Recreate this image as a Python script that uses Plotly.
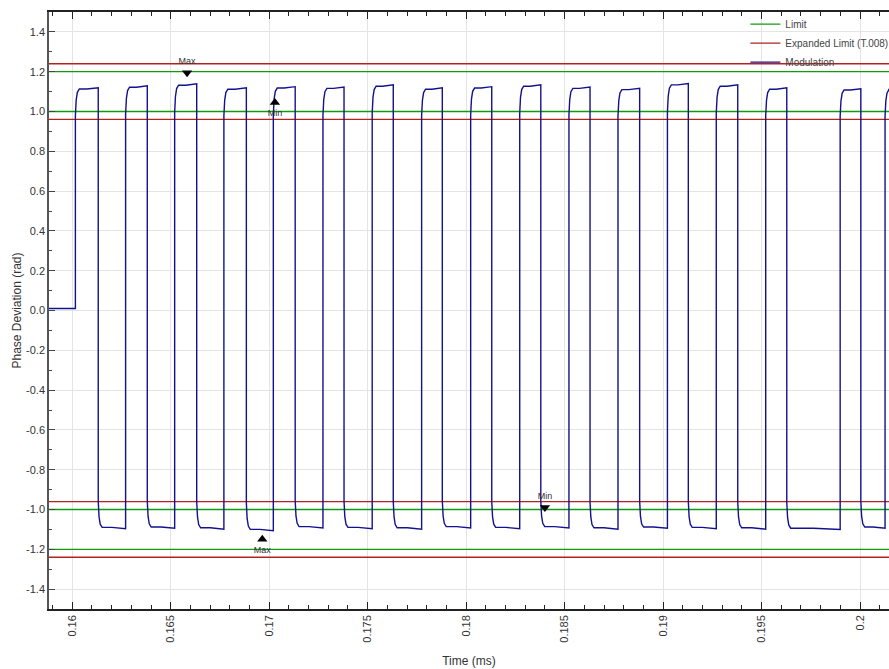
import plotly.graph_objects as go

# ---------------- data ----------------
baseline_level = 0.01
t_start = 0.1588
t_end = 0.2016

rise_times = [0.16016, 0.16271, 0.16520, 0.16770, 0.17021, 0.17273, 0.17523,
              0.17774, 0.18023, 0.18272, 0.18522, 0.18771, 0.19022, 0.19270,
              0.19521, 0.19899, 0.20127]
fall_times = [0.16132, 0.16381, 0.16632, 0.16884, 0.17132, 0.17380, 0.17630,
              0.17879, 0.18130, 0.18379, 0.18629, 0.18881, 0.19128, 0.19379,
              0.19628, 0.20004]
high_levels = [1.113, 1.122, 1.132, 1.112, 1.118, 1.116, 1.127, 1.112, 1.118,
               1.127, 1.116, 1.110, 1.134, 1.127, 1.112, 1.108, 1.110]
low_levels = [-1.090, -1.088, -1.092, -1.100, -1.086, -1.090, -1.092, -1.086,
              -1.090, -1.086, -1.092, -1.088, -1.090, -1.092, -1.094, -1.088]

limit_levels = [1.2, 1.0, -1.0, -1.2]
expanded_levels = [1.24, 0.96, -0.96, -1.24]

marker_times = [0.16583, 0.17029, 0.16965, 0.18400]
marker_values = [1.195, 1.045, -1.150, -0.990]
marker_labels = ["Max", "Min", "Max", "Min"]

x_tick_values = [0.16, 0.165, 0.17, 0.175, 0.18, 0.185, 0.19, 0.195, 0.2]
x_tick_labels = ["0.16", "0.165", "0.17", "0.175", "0.18", "0.185", "0.19", "0.195", "0.2"]
y_tick_values = [1.4, 1.2, 1.0, 0.8, 0.6, 0.4, 0.2, 0.0, -0.2, -0.4, -0.6, -0.8, -1.0, -1.2, -1.4]
y_tick_labels = ["1.4", "1.2", "1.0", "0.8", "0.6", "0.4", "0.2", "0.0", "-0.2", "-0.4",
                 "-0.6", "-0.8", "-1.0", "-1.2", "-1.4"]

# ---------------- build the modulation trace ----------------
settle_dt = [0.0, 0.00004, 0.0001, 0.0002]
settle_frac = [0.88, 0.95, 0.985, 1.0]

wx = [t_start, rise_times[0]]
wy = [baseline_level, baseline_level]


def add_segment(t0, t1, level):
    for dt, fr in zip(settle_dt, settle_frac):
        if t0 + dt < t1:
            wx.append(t0 + dt)
            wy.append(level * fr)
    wx.append((t0 + t1) / 2)
    wy.append(level)
    wx.append(t1)
    wy.append(level * 1.006)


for i, tr in enumerate(rise_times):
    tf = fall_times[i] if i < len(fall_times) else t_end
    add_segment(tr, tf, high_levels[i])
    if i < len(fall_times):
        tn = rise_times[i + 1] if i + 1 < len(rise_times) else t_end
        add_segment(tf, tn, low_levels[i])


def hlines(levels):
    xs, ys = [], []
    for lv in levels:
        xs += [t_start, t_end, None]
        ys += [lv, lv, None]
    return xs, ys


lx, ly = hlines(limit_levels)
ex, ey = hlines(expanded_levels)

fig = go.Figure()
fig.add_trace(go.Scatter(x=lx, y=ly, mode="lines", name="Limit",
                         line=dict(color="#109a10", width=1.3)))
fig.add_trace(go.Scatter(x=ex, y=ey, mode="lines", name="Expanded Limit (T.008)",
                         line=dict(color="#b22222", width=1.3)))
fig.add_trace(go.Scatter(x=wx, y=wy, mode="lines", name="Modulation",
                         line=dict(color="#12128e", width=1.4)))

symbols = ["triangle-down", "triangle-up", "triangle-up", "triangle-down"]
positions = ["top center", "bottom center", "bottom center", "top center"]
fig.add_trace(go.Scatter(x=marker_times, y=marker_values, mode="markers+text",
                         text=marker_labels, textposition=positions,
                         textfont=dict(size=9, color="#333333", family="Liberation Sans"),
                         marker=dict(symbol=symbols, size=9, color="black"),
                         showlegend=False, hoverinfo="skip"))

axis_font = dict(family="Liberation Sans", size=11, color="#333333")

fig.update_layout(
    width=889, height=669,
    margin=dict(l=49, r=0, t=12, b=60, autoexpand=False),
    paper_bgcolor="white", plot_bgcolor="white",
    font=dict(family="Liberation Sans", color="#333333"),
    legend=dict(x=0.829, y=1.004, xanchor="left", yanchor="top",
                bgcolor="rgba(0,0,0,0)", font=dict(size=10, color="#444444"),
                itemwidth=30, tracegroupgap=0),
    showlegend=True,
)

fig.update_xaxes(
    range=[0.15882, 0.20147],
    tickvals=x_tick_values, ticktext=x_tick_labels, tickangle=-90,
    tickfont=axis_font,
    ticks="inside", ticklen=7, tickcolor="#222222",
    showline=True, linecolor="#222222", linewidth=1.5, mirror="ticks",
    showgrid=True, gridcolor="#e4e4e4", gridwidth=1,
    zeroline=False,
    minor=dict(dtick=0.001, tick0=0.16, ticks="inside", ticklen=4,
               tickcolor="#222222", showgrid=False),
    title=dict(text="Time (ms)", font=dict(size=12, color="#333333"), standoff=15),
)

fig.update_yaxes(
    range=[-1.5, 1.5],
    tickvals=y_tick_values, ticktext=y_tick_labels,
    tickfont=axis_font,
    ticks="inside", ticklen=6, tickcolor="#444444",
    showline=True, linecolor="#555555", linewidth=1.5,
    showgrid=True, gridcolor="#e4e4e4", gridwidth=1,
    zeroline=False,
    minor=dict(dtick=0.1, tick0=0, ticks="inside", ticklen=3,
               tickcolor="#444444", showgrid=False),
    title=dict(text="Phase Deviation (rad)", font=dict(size=12, color="#333333"), standoff=2),
)

fig.write_html("out.html")
